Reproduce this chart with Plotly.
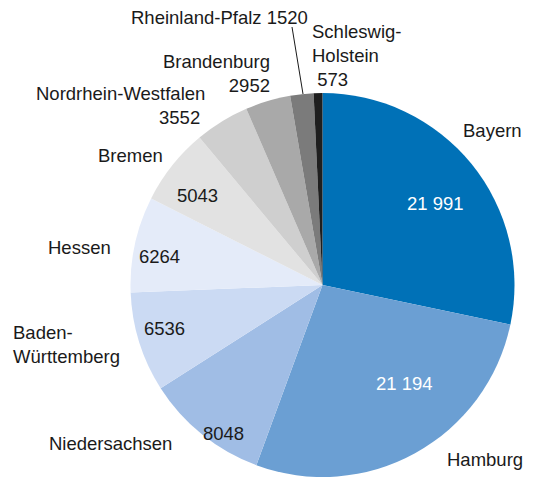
import plotly.graph_objects as go

W, H = 534, 478
OFF = 8  # default body margin of the page shifts the figure by 8 px

# Data
states = ["Bayern", "Hamburg", "Niedersachsen", "Baden-Württemberg", "Hessen",
          "Bremen", "Nordrhein-Westfalen", "Brandenburg", "Rheinland-Pfalz",
          "Schleswig-Holstein"]
values = [21991, 21194, 8048, 6536, 6264, 5043, 3552, 2952, 1520, 573]
colors = ["#0071b7", "#6b9fd3", "#a0bde5", "#cbdaf3", "#e4ebf9",
          "#e2e2e2", "#cfcfcf", "#a9a9a9", "#7b7b7b", "#1e1e1e"]


def fmt(v):
    # space grouping like in the print version
    return f"{v:,}".replace(",", " ") if v >= 10000 else str(v)


def px(x, y):
    # screen pixel -> paper coords
    return (x - OFF) / W, 1 - (y - OFF) / H


cx, cy, r = 322.5, 285, 192
(dx0, dy1), (dx1, dy0) = px(cx - r, cy - r), px(cx + r, cy + r)

fig = go.Figure()
fig.add_trace(go.Pie(
    labels=states, values=values, sort=False, direction="clockwise", rotation=0,
    marker=dict(colors=colors, line=dict(width=0)),
    textinfo="none", hoverinfo="label+value", showlegend=False,
    domain=dict(x=[dx0, dx1], y=[dy0, dy1]),
))

font = dict(family="Liberation Sans, Arial, sans-serif", size=18.5, color="#1a1a1a")
white = dict(font, color="white")

# label text, pixel position, anchor
labels = [
    ("Bayern", 492, 131, "center", font),
    (fmt(values[0]), 435, 203, "center", white),
    ("Hamburg", 525, 459, "right", font),
    (fmt(values[1]), 404, 383, "center", white),
    ("Niedersachsen", 110, 443, "center", font),
    (fmt(values[2]), 223, 433, "center", font),
    ("Baden-<br>Württemberg", 11, 344, "left", font),
    (fmt(values[3]), 164, 328, "center", font),
    ("Hessen", 79, 247, "center", font),
    (fmt(values[4]), 159, 256, "center", font),
    ("Bremen", 130, 155, "center", font),
    (fmt(values[5]), 197, 195, "center", font),
    ("Nordrhein-Westfalen<br>" + fmt(values[6]) + " ", 207, 105, "right", font),
    ("Brandenburg<br>" + fmt(values[7]), 272, 73, "right", font),
    ("Rheinland-Pfalz " + fmt(values[8]), 219, 17, "center", font),
    ("Schleswig-<br>Holstein<br> " + fmt(values[9]), 310, 55, "left", font),
]

for text, x, y, anchor, f in labels:
    xp, yp = px(x, y)
    fig.add_annotation(x=xp, y=yp, xref="paper", yref="paper", text=text,
                       showarrow=False, xanchor=anchor, yanchor="middle",
                       align=anchor, font=f)

# leader line for Rheinland-Pfalz
x0, y0 = px(292, 27)
x1, y1 = px(303, 94)
fig.add_shape(type="line", xref="paper", yref="paper", x0=x0, y0=y0, x1=x1, y1=y1,
              line=dict(color="#1a1a1a", width=1))

fig.update_layout(width=W, height=H, margin=dict(l=0, r=0, t=0, b=0),
                  paper_bgcolor="white", plot_bgcolor="white")

fig.write_html("out.html")
